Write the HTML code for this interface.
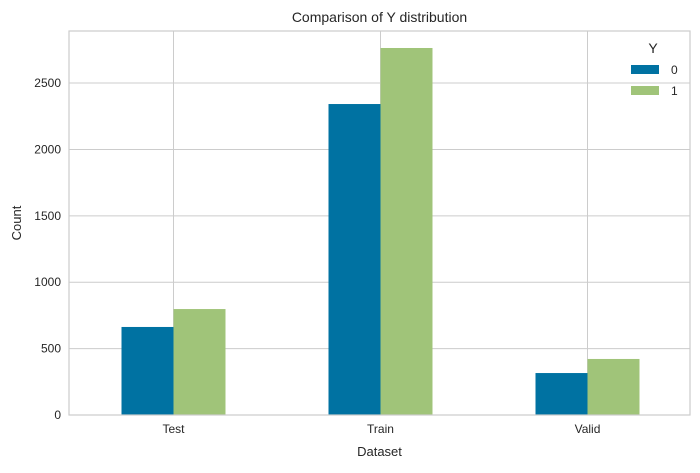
<!DOCTYPE html>
<html><head><meta charset="utf-8"><style>
body{margin:0;background:#fff;}
svg text{font-family:"Liberation Sans",sans-serif;fill:#262626;}
</style></head><body>
<svg width="700" height="468" id="c">
<rect x="0" y="0" width="700" height="468" fill="#fff"/>
</svg>
<script>
const categories=["Test","Train","Valid"];
const series0=[663,2342,316];
const series1=[798,2764,422];
const yTicks=[0,500,1000,1500,2000,2500];
const seriesNames=["0","1"];
const colors=["#0072a2","#a0c479"];
const L=69,R=690,T=31,B=415,yMax=2892;
const svg=document.getElementById('c');
const ns="http://www.w3.org/2000/svg";
function y(v){return B-(v/yMax)*(B-T);}
function x(i){return L+(i+0.5)*(R-L)/categories.length+1;}
function mk(t,a,p){const e=document.createElementNS(ns,t);for(const k in a)e.setAttribute(k,a[k]);(p||svg).appendChild(e);return e;}
const bw=52;
yTicks.forEach(v=>{
 const g=mk('line',{x1:L,x2:R,y1:y(v),y2:y(v),stroke:'#cccccc','stroke-width':1});
 
 
 const t=mk('text',{x:L-8,y:y(v)+4,'text-anchor':'end','font-size':12});
 t.textContent=v;
 
 
});
categories.forEach((c,i)=>{
 const g=mk('line',{x1:x(i),x2:x(i),y1:T,y2:B,stroke:'#cccccc','stroke-width':1});
 
 
 const t=mk('text',{x:x(i),y:B+18,'text-anchor':'middle','font-size':12});
 t.textContent=c;
 
 
});
[series0,series1].forEach((s,k)=>{
 s.forEach((v,i)=>{
  const r=mk('rect',{x:x(i)-bw+k*bw,y:y(v),width:bw,height:B-y(v),fill:colors[k]});
  
  
 });
});
const fr=mk('rect',{x:L,y:T,width:R-L,height:B-T,fill:'none',stroke:'#cccccc','stroke-width':1.2});


const ti=mk('text',{x:(L+R)/2,y:22,'text-anchor':'middle','font-size':14});
ti.textContent='Comparison of Y distribution';


const xt=mk('text',{x:(L+R)/2,y:456,'text-anchor':'middle','font-size':13});
xt.textContent='Dataset';


const yt=mk('text',{x:0,y:0,'text-anchor':'middle','font-size':13,transform:'translate(21,'+((T+B)/2)+') rotate(-90)'});
yt.textContent='Count';


const lt=mk('text',{x:653,y:53,'text-anchor':'middle','font-size':14});
lt.textContent='Y';


seriesNames.forEach((n,k)=>{
 const r=mk('rect',{x:631,y:65+k*21,width:28,height:9,fill:colors[k]});
 
 
 const t=mk('text',{x:671,y:74+k*21,'font-size':12});
 t.textContent=n;
 
 
});
</script>
</body></html>
